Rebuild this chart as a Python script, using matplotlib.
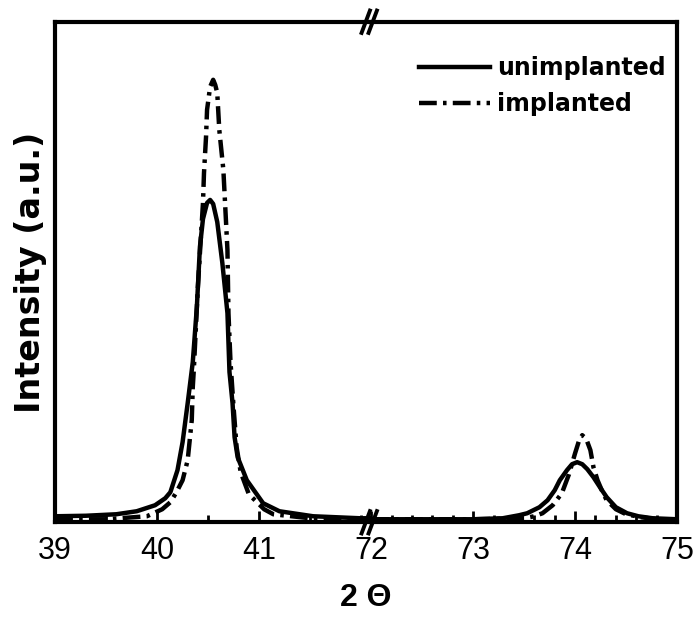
import matplotlib.pyplot as plt
from matplotlib.ticker import MultipleLocator

plt.rcParams['font.family'] = ['Liberation Sans', 'DejaVu Sans']

# 2-theta positions and intensities (a.u.)
theta_left_unimp = [39.0, 39.3, 39.6, 39.8, 39.98, 40.08, 40.13, 40.20, 40.25, 40.30, 40.35,
                    40.39, 40.42, 40.45, 40.49, 40.52, 40.55, 40.59, 40.64, 40.69, 40.71,
                    40.74, 40.76, 40.79, 40.88, 41.04, 41.2, 41.53, 41.99, 42.1]
int_left_unimp = [6, 6.5, 8, 11, 17, 24, 30, 52, 80, 119, 160,
                  215, 275, 303, 319, 322, 318, 300, 259, 209, 150,
                  119, 85, 65, 42, 19, 11, 6, 4, 4]

theta_left_imp = [39.0, 39.5, 39.9, 40.05, 40.13, 40.19, 40.25, 40.30, 40.34, 40.35, 40.36,
                  40.40, 40.45, 40.46, 40.48, 40.49, 40.52, 40.55, 40.57, 40.59, 40.61,
                  40.65, 40.67, 40.69, 40.70, 40.72, 40.75, 40.78, 40.82, 40.90, 41.05,
                  41.14, 41.5, 42.0, 42.1]
int_left_imp = [3, 3, 6, 13, 20, 30, 42, 62, 102, 135, 152,
                235, 319, 349, 385, 412, 435, 442, 437, 429, 392,
                352, 312, 272, 209, 160, 115, 75, 50, 28, 13,
                8, 4, 3, 3]

theta_right_unimp = [72.0, 72.5, 73.0, 73.29, 73.45, 73.53, 73.65, 73.73, 73.80, 73.85,
                     73.92, 73.97, 74.02, 74.07, 74.12, 74.18, 74.25, 74.31, 74.40,
                     74.51, 74.62, 74.76, 75.0]
int_right_unimp = [3, 3, 3, 4, 7, 9, 15, 22, 32, 42,
                   52, 58, 60, 58, 53, 45, 34, 25, 15,
                   9, 6, 4, 3]

theta_right_imp = [72.0, 72.5, 73.0, 73.5, 73.60, 73.68, 73.78, 73.87, 73.94, 74.0,
                   74.04, 74.07, 74.11, 74.15, 74.18, 74.22, 74.27, 74.31, 74.40,
                   74.50, 74.65, 74.8, 75.0]
int_right_imp = [3, 3, 3, 4, 6, 9, 17, 29, 48, 69,
                 82, 87, 83, 72, 55, 42, 30, 22, 13,
                 8, 5, 3, 3]

left_ticks = [39, 40, 41]
right_ticks = [72, 73, 74, 75]

fig = plt.figure(figsize=(6.98, 6.21), dpi=100)
gs = fig.add_gridspec(1, 2, width_ratios=[3.1, 3.0], wspace=0,
                      left=0.079, right=0.970, bottom=0.159, top=0.965)
ax1 = fig.add_subplot(gs[0])
ax2 = fig.add_subplot(gs[1], sharey=ax1)

lw = 3.2
dashdot = (0, (4, 1.4, 0.8, 1.4))
ax1.plot(theta_left_unimp, int_left_unimp, color='black', lw=lw, label='unimplanted')
ax1.plot(theta_left_imp, int_left_imp, color='black', lw=lw, ls=dashdot, label='implanted')
ax2.plot(theta_right_unimp, int_right_unimp, color='black', lw=lw, label='unimplanted')
ax2.plot(theta_right_imp, int_right_imp, color='black', lw=lw, ls=dashdot, label='implanted')

ax1.set_xlim(39, 42.1)
ax2.set_xlim(72, 75)
ax1.set_ylim(0, 500)

for ax in (ax1, ax2):
    for s in ax.spines.values():
        s.set_linewidth(3)
    ax.tick_params(axis='x', direction='in', length=8, width=2, labelsize=22, pad=10)
    ax.tick_params(axis='x', which='minor', direction='in', length=5, width=2)
    ax.tick_params(axis='y', left=False, right=False, labelleft=False)

ax1.spines['right'].set_visible(False)
ax2.spines['left'].set_visible(False)
ax1.set_xticks(left_ticks)
ax2.set_xticks(right_ticks)
ax1.xaxis.set_minor_locator(MultipleLocator(0.5))
ax2.xaxis.set_minor_locator(MultipleLocator(0.2))

# break marks
xj = 0.5300
for yb in (0.965, 0.159):
    for dx in (-0.006, 0.004):
        fig.add_artist(plt.Line2D([xj + dx - 0.006, xj + dx + 0.006], [yb - 0.018, yb + 0.018],
                                  color='black', lw=2.8))

fig.text(0.044, 0.562, 'Intensity (a.u.)', rotation=90, ha='center', va='center',
         fontsize=24, fontweight='bold', family=['DejaVu Sans'])
fig.text(0.524, 0.037, '2 Θ', ha='center', va='center', fontsize=23, fontweight='bold')

ax2.legend(loc='upper right', frameon=False,
           prop={'weight': 'bold', 'size': 17, 'family': 'DejaVu Sans'},
           handlelength=3.0, handletextpad=0.3, labelspacing=0.5,
           bbox_to_anchor=(1.0, 0.955), borderaxespad=0.1)

fig.savefig('out.png', dpi=100)
